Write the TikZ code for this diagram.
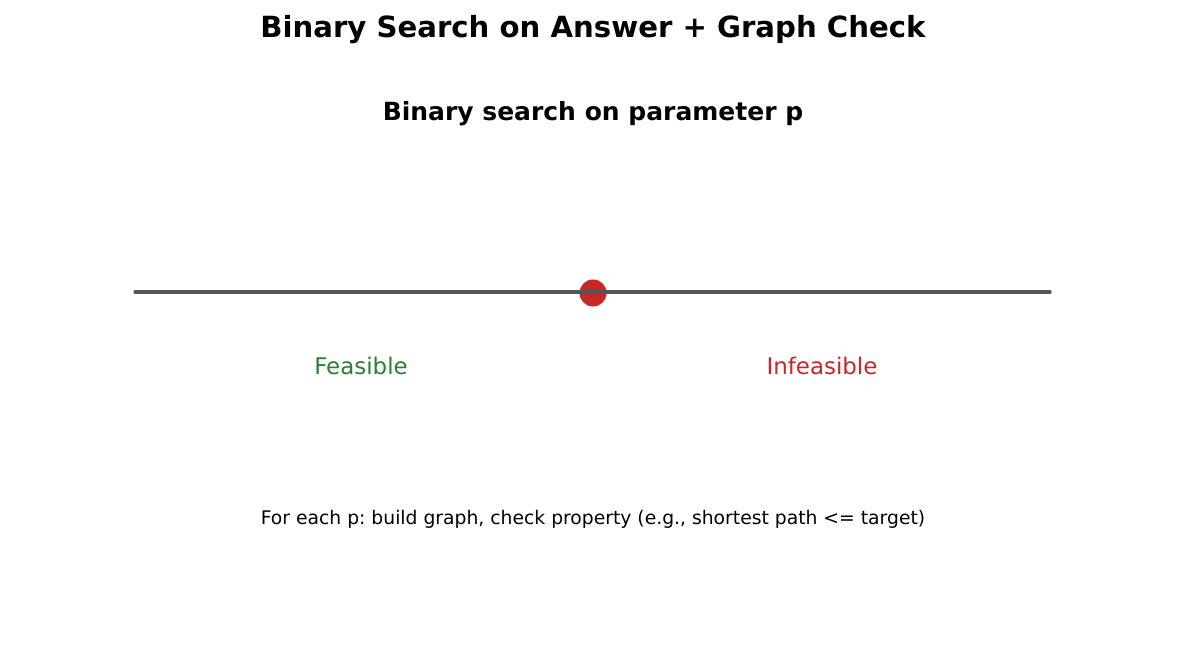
\documentclass[tikz,border=0pt]{standalone}
\usepackage{fontspec}
\setmainfont{DejaVu Sans}
\usepackage{xcolor}
\usetikzlibrary{positioning}

\definecolor{axisgray}{HTML}{555555}
\definecolor{midred}{HTML}{C62828}
\definecolor{okgreen}{HTML}{2E7D32}

\begin{document}
\frenchspacing
\begin{tikzpicture}[
    x=0.48pt, y=-0.48pt,
    heading/.style={anchor=base, inner sep=0pt, font=\fontsize{14}{16}\selectfont\bfseries},
    subheading/.style={anchor=base, inner sep=0pt, font=\fontsize{12}{14}\selectfont\bfseries},
    side/.style={anchor=base, inner sep=0pt, font=\fontsize{11}{13}\selectfont},
    note/.style={anchor=base, inner sep=0pt, font=\fontsize{9}{11}\selectfont},
    probe/.style={circle, fill=midred, inner sep=0pt, minimum size=27*0.48pt},
    axis/.style={line width=1.6pt, color=axisgray, line cap=round}
]
\useasboundingbox (0,0) rectangle (1185,654);

% Titles
\node[heading] (title) at (593,38) {Binary Search on Answer + Graph Check};
\node[subheading] (subtitle) at (593,121) {Binary search on parameter p};

% Search range
\coordinate (lo) at (135,292);
\coordinate (hi) at (1050,292);
\node[probe] (mid) at (593,293) {};
\draw[axis] (lo) -- (hi);

% Sides
\node[side, text=okgreen] (feasible) at (361,375) {Feasible};
\node[side, text=midred] (infeasible) at (822,375) {Infeasible};

% Check
\node[note] (check) at (593,525) {For each p: build graph, check property (e.g., shortest path <= target)};

\end{tikzpicture}
\end{document}
